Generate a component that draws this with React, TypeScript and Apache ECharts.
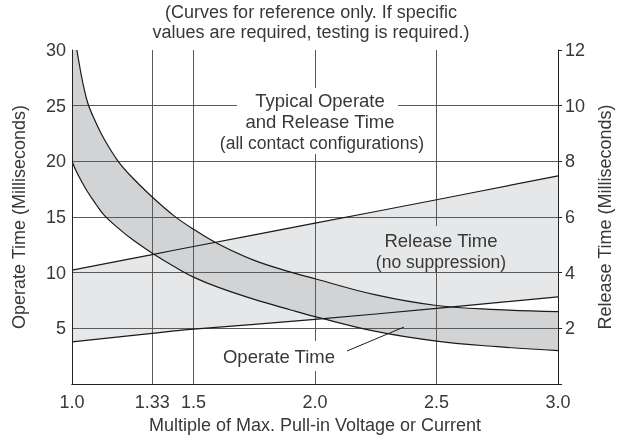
import React, { useEffect, useRef } from 'react';
import * as echarts from 'echarts';

// Operate time band (left axis, ms)
const operateX = [1.0, 1.02, 1.06, 1.1, 1.135, 1.19, 1.25, 1.33, 1.42, 1.5, 1.6, 1.75, 1.9, 2.0, 2.25, 2.5, 2.75, 3.0];
const operateUpper = [33, 30, 25.6, 23.4, 21.9, 20.0, 18.5, 16.8, 15.1, 13.9, 12.6, 11.1, 10.05, 9.45, 8.0, 7.05, 6.68, 6.5];
const operateLower = [20, 19.0, 17.4, 16.1, 15.1, 14.0, 12.95, 11.75, 10.55, 9.6, 8.7, 7.6, 6.65, 6.05, 4.72, 3.85, 3.35, 3.0];

// Release time band (right axis, ms)
const releaseX = [1.0, 1.33, 1.5, 2.0, 2.5, 3.0];
const releaseUpper = [4.09, 4.65, 4.94, 5.78, 6.62, 7.48];
const releaseLower = [1.51, 1.82, 1.97, 2.32, 2.72, 3.13];

// Axis ticks
const xTickValues = [1.0, 1.33, 1.5, 2.0, 2.5, 3.0];
const xTickLabels = ['1.0', '1.33', '1.5', '2.0', '2.5', '3.0'];
const xGridValues = [1.33, 1.5, 2.0, 2.5];
const leftGridValues = [5, 10, 15, 20, 25];

const FONT = '"Liberation Sans", Arial, Helvetica, sans-serif';
const TEXT = '#383838';
const GRID = '#5a5a5a';
const CURVE = '#1a1a1a';
const AXIS = '#222';
const DARK_BAND = '#d2d3d5';
const LIGHT_BAND = '#e6e7e8';

type P = number[];

// Smooth cubic segments through pixel points (chord-length weighted cardinal spline)
function controlPoints(pts: P[], s = 0.4) {
  const n = pts.length;
  const before: P[] = [];
  const after: P[] = [];
  for (let i = 0; i < n; i++) {
    const c = pts[i];
    if (i === 0 || i === n - 1) {
      before[i] = c;
      after[i] = c;
      continue;
    }
    const p = pts[i - 1];
    const nx = pts[i + 1];
    const d0 = Math.hypot(c[0] - p[0], c[1] - p[1]);
    const d1 = Math.hypot(nx[0] - c[0], nx[1] - c[1]);
    const tot = d0 + d1 || 1;
    const tx = nx[0] - p[0];
    const ty = nx[1] - p[1];
    before[i] = [c[0] - tx * s * (d0 / tot), c[1] - ty * s * (d0 / tot)];
    after[i] = [c[0] + tx * s * (d1 / tot), c[1] + ty * s * (d1 / tot)];
  }
  return { before, after };
}

function forwardPath(pts: P[], move: boolean) {
  const { before, after } = controlPoints(pts);
  let d = (move ? 'M' : 'L') + pts[0][0] + ' ' + pts[0][1];
  for (let i = 1; i < pts.length; i++) {
    d += ' C' + after[i - 1][0] + ' ' + after[i - 1][1] + ' ' + before[i][0] + ' ' + before[i][1] + ' ' + pts[i][0] + ' ' + pts[i][1];
  }
  return d;
}

function backwardPath(pts: P[]) {
  const { before, after } = controlPoints(pts);
  const n = pts.length;
  let d = ' L' + pts[n - 1][0] + ' ' + pts[n - 1][1];
  for (let i = n - 1; i > 0; i--) {
    d += ' C' + before[i][0] + ' ' + before[i][1] + ' ' + after[i - 1][0] + ' ' + after[i - 1][1] + ' ' + pts[i - 1][0] + ' ' + pts[i - 1][1];
  }
  return d;
}

function bandSeries(name: string, xs: number[], lo: number[], hi: number[], yAxisIndex: number, color: string, z: number) {
  return {
    type: 'custom',
    name,
    coordinateSystem: 'cartesian2d',
    xAxisIndex: 0,
    yAxisIndex,
    clip: true,
    silent: true,
    z,
    data: xs.map((x, i) => [x, lo[i], hi[i]]),
    encode: { x: 0, y: [1, 2] },
    renderItem: (params: any, api: any) => {
      if (params.dataIndex !== 0) return null;
      const top = xs.map((x, i) => api.coord([x, hi[i]]));
      const bot = xs.map((x, i) => api.coord([x, lo[i]]));
      const d = forwardPath(top, true) + backwardPath(bot) + ' Z';
      return { type: 'path', shape: { pathData: d }, style: { fill: color, stroke: null } };
    },
  };
}

function curveSeries(name: string, xs: number[], ys: number[], yAxisIndex: number) {
  return {
    type: 'custom',
    name,
    coordinateSystem: 'cartesian2d',
    xAxisIndex: 0,
    yAxisIndex,
    clip: true,
    silent: true,
    z: 5,
    data: xs.map((x, i) => [x, ys[i]]),
    encode: { x: 0, y: 1 },
    renderItem: (params: any, api: any) => {
      if (params.dataIndex !== 0) return null;
      const pts = xs.map((x, i) => api.coord([x, ys[i]]));
      return { type: 'path', shape: { pathData: forwardPath(pts, true) }, style: { fill: null, stroke: CURVE, lineWidth: 1.2 } };
    },
  };
}

function txt(text: string, x: number, y: number, size: number) {
  return {
    type: 'text',
    z: 60,
    x,
    y,
    silent: true,
    style: {
      text,
      fontSize: size,
      fontFamily: FONT,
      fill: TEXT,
      textAlign: 'center',
      textVerticalAlign: 'middle',
      align: 'center',
      verticalAlign: 'middle',
    },
  };
}

export default function App() {
  const ref = useRef<HTMLDivElement>(null);
  useEffect(() => {
    const chart = echarts.init(ref.current!, null, { renderer: 'svg' });
    const labelStyle = { fontSize: 18, color: TEXT, fontFamily: FONT };
    chart.setOption({
      animation: false,
      title: {
        text: '(Curves for reference only. If specific\nvalues are required, testing is required.)',
        left: 'center',
        top: 2,
        padding: 0,
        textStyle: { fontSize: 18, fontWeight: 'normal', color: TEXT, fontFamily: FONT, lineHeight: 20 },
      },
      grid: { left: 72, right: 61, top: 50, bottom: 55, show: false },
      xAxis: [
        {
          type: 'value',
          min: 1,
          max: 3,
          position: 'bottom',
          z: 10,
          name: 'Multiple of Max. Pull-in Voltage or Current',
          nameLocation: 'middle',
          nameGap: 32,
          nameTextStyle: labelStyle,
          axisLine: { show: true, lineStyle: { color: AXIS, width: 1 } },
          axisTick: { show: false },
          splitLine: { show: false },
          axisLabel: {
            ...labelStyle,
            margin: 9,
            customValues: xTickValues,
            formatter: (v: number) => {
              const i = xTickValues.findIndex((t) => Math.abs(t - v) < 1e-6);
              return i >= 0 ? xTickLabels[i] : '';
            },
          },
        },
        {
          type: 'value',
          min: 1,
          max: 3,
          position: 'top',
          z: 10,
          axisLine: { show: true, lineStyle: { color: AXIS, width: 1 } },
          axisTick: { show: false },
          axisLabel: { show: false },
          splitLine: { show: false },
        },
      ],
      yAxis: [
        {
          type: 'value',
          min: 0,
          max: 30,
          interval: 5,
          position: 'left',
          z: 10,
          name: 'Operate Time (Milliseconds)',
          nameLocation: 'middle',
          nameRotate: 90,
          nameGap: 44,
          nameTextStyle: labelStyle,
          axisLine: { show: true, lineStyle: { color: AXIS, width: 1 } },
          axisTick: { show: false },
          splitLine: { show: false },
          axisLabel: { ...labelStyle, margin: 6, formatter: (v: number) => (v === 0 ? '' : String(v)) },
        },
        {
          type: 'value',
          min: 0,
          max: 12,
          interval: 2,
          position: 'right',
          z: 10,
          name: 'Release Time (Milliseconds)',
          nameLocation: 'middle',
          nameRotate: 90,
          nameGap: 33,
          nameTextStyle: labelStyle,
          axisLine: { show: true, lineStyle: { color: AXIS, width: 1 } },
          axisTick: { show: true, length: 4, inside: false, lineStyle: { color: AXIS } },
          splitLine: { show: false },
          axisLabel: { ...labelStyle, margin: 7, formatter: (v: number) => (v === 0 ? '' : String(v)) },
        },
      ],
      series: [
        bandSeries('Release band', releaseX, releaseLower, releaseUpper, 1, LIGHT_BAND, 1),
        bandSeries('Operate band', operateX, operateLower, operateUpper, 0, DARK_BAND, 2),
        {
          type: 'line',
          name: 'grid',
          xAxisIndex: 0,
          yAxisIndex: 0,
          data: [[1, 0]],
          symbol: 'none',
          silent: true,
          z: 3,
          lineStyle: { opacity: 0 },
          markLine: {
            silent: true,
            symbol: ['none', 'none'],
            label: { show: false },
            lineStyle: { color: GRID, width: 1, type: 'solid' },
            emphasis: { disabled: true },
            data: [
              ...xGridValues.map((v) => ({ xAxis: v })),
              ...leftGridValues.map((v) => ({ yAxis: v })),
            ],
          },
        },
        curveSeries('Release upper', releaseX, releaseUpper, 1),
        curveSeries('Release lower', releaseX, releaseLower, 1),
        curveSeries('Operate upper', operateX, operateUpper, 0),
        curveSeries('Operate lower', operateX, operateLower, 0),
      ],
      graphic: [
        { type: 'rect', z: 50, silent: true, shape: { x: 237, y: 88, width: 161, height: 66 }, style: { fill: '#ffffff' } },
        txt('Typical Operate', 320, 100, 18.5),
        txt('and Release Time', 320, 121, 18.5),
        txt('(all contact configurations)', 322, 143, 17.5),
        { type: 'rect', z: 50, silent: true, shape: { x: 381, y: 226, width: 120, height: 44 }, style: { fill: LIGHT_BAND } },
        txt('Release Time', 441, 240, 18.5),
        txt('(no suppression)', 441, 262, 17.5),
        { type: 'rect', z: 50, silent: true, shape: { x: 214, y: 341, width: 130, height: 30 }, style: { fill: '#ffffff' } },
        txt('Operate Time', 279, 356, 18.5),
        { type: 'line', z: 50, silent: true, shape: { x1: 347, y1: 351, x2: 404, y2: 327 }, style: { stroke: CURVE, lineWidth: 1 } },
      ],
    });
    return () => chart.dispose();
  }, []);
  return <div ref={ref} style={{ position: 'fixed', left: 0, top: 0, width: 622, height: 439 }} />;
}
